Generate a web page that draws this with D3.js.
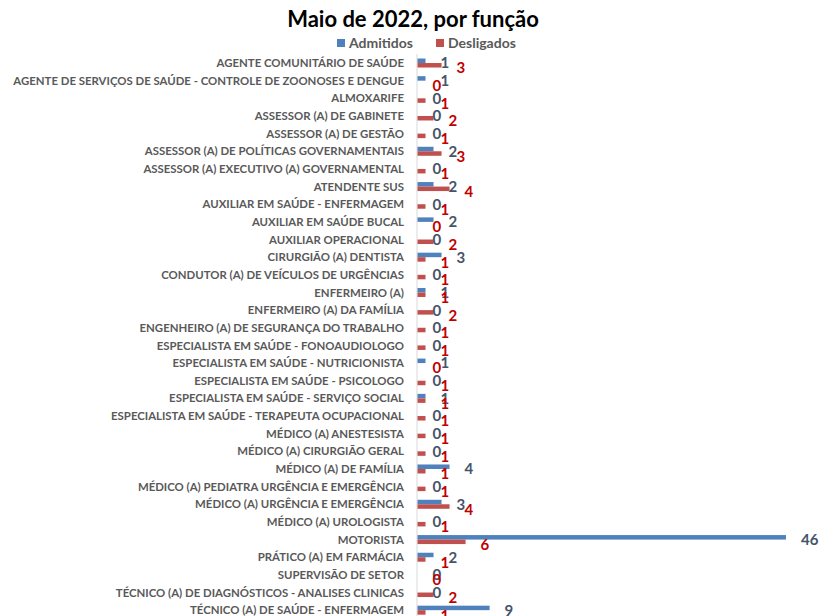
<!DOCTYPE html>
<html>
<head>
<meta charset="utf-8">
<script src="https://cdn.jsdelivr.net/npm/d3@7"></script>
<style>
    body { margin: 0; background: #fff; }
    text { font-family: Lato, "Liberation Sans", sans-serif; font-weight: bold; }
</style>
</head>
<body>
<div id="chart-area"></div>
<script>

// categories (funções)
let funcoes = [
    "AGENTE COMUNITÁRIO DE SAÚDE",
    "AGENTE DE SERVIÇOS DE SAÚDE - CONTROLE DE ZOONOSES E DENGUE",
    "ALMOXARIFE",
    "ASSESSOR (A) DE GABINETE",
    "ASSESSOR (A) DE GESTÃO",
    "ASSESSOR (A) DE POLÍTICAS GOVERNAMENTAIS",
    "ASSESSOR (A) EXECUTIVO (A) GOVERNAMENTAL",
    "ATENDENTE SUS",
    "AUXILIAR EM SAÚDE - ENFERMAGEM",
    "AUXILIAR EM SAÚDE BUCAL",
    "AUXILIAR OPERACIONAL",
    "CIRURGIÃO (A) DENTISTA",
    "CONDUTOR (A) DE VEÍCULOS DE URGÊNCIAS",
    "ENFERMEIRO (A)",
    "ENFERMEIRO (A) DA FAMÍLIA",
    "ENGENHEIRO (A) DE SEGURANÇA DO TRABALHO",
    "ESPECIALISTA EM SAÚDE - FONOAUDIOLOGO",
    "ESPECIALISTA EM SAÚDE - NUTRICIONISTA",
    "ESPECIALISTA EM SAÚDE - PSICOLOGO",
    "ESPECIALISTA EM SAÚDE - SERVIÇO SOCIAL",
    "ESPECIALISTA EM SAÚDE - TERAPEUTA OCUPACIONAL",
    "MÉDICO (A) ANESTESISTA",
    "MÉDICO (A) CIRURGIÃO GERAL",
    "MÉDICO (A) DE FAMÍLIA",
    "MÉDICO (A) PEDIATRA URGÊNCIA E EMERGÊNCIA",
    "MÉDICO (A) URGÊNCIA E EMERGÊNCIA",
    "MÉDICO (A) UROLOGISTA",
    "MOTORISTA",
    "PRÁTICO (A) EM FARMÁCIA",
    "SUPERVISÃO DE SETOR",
    "TÉCNICO (A) DE DIAGNÓSTICOS - ANALISES CLINICAS",
    "TÉCNICO (A) DE SAÚDE - ENFERMAGEM"
];

let admitidos = [1, 1, 0, 0, 0, 2, 0, 2, 0, 2, 0, 3, 0, 1, 0, 0, 0, 1, 0, 1, 0, 0, 0, 4, 0, 3, 0, 46, 2, 0, 0, 9];
let desligados = [3, 0, 1, 2, 1, 3, 1, 4, 1, 0, 2, 1, 1, 1, 2, 1, 1, 0, 1, 1, 1, 1, 1, 1, 1, 4, 1, 6, 1, 0, 2, 1];

let series = ["Admitidos", "Desligados"];
let title = "Maio de 2022, por função";


class FuncaoBarVis {

    constructor(_parentElement) {
        this.parentElement = _parentElement;

        this.displayData = funcoes.map((f, i) => {
            return { funcao: f, values: [admitidos[i], desligados[i]] };
        });

        this.colors = ["#4F81BD", "#C0504D"];
        this.labelColors = ["#44546A", "#C00000"];

        this.initVis();
    }

    initVis() {
        let vis = this;

        vis.width = 822;
        vis.height = 616;

        vis.svg = d3.select("#" + vis.parentElement).append("svg")
            .attr("width", vis.width)
            .attr("height", vis.height);

        // title
        vis.svg.append("text")
            .attr("x", 413)
            .attr("y", 27)
            .attr("text-anchor", "middle")
            .attr("font-size", 22)
            .attr("fill", "#000")
            .text(title);

        // legend
        let legendX = [337, 436];
        let legend = vis.svg.selectAll(".legend")
            .data(series)
            .enter().append("g")
            .attr("class", "legend")
            .attr("transform", (d, i) => "translate(" + legendX[i] + ",39)");
        legend.append("rect")
            .attr("width", 8)
            .attr("height", 8)
            .attr("fill", (d, i) => vis.colors[i]);
        legend.append("text")
            .attr("x", 12)
            .attr("y", 9)
            .attr("font-size", 14)
            .attr("fill", "#595959")
            .text(d => d);

        // scales
        vis.y = d3.scaleBand()
            .domain(funcoes)
            .range([54.2, 54.2 + 17.65 * funcoes.length])
            .paddingInner(0.49)
            .paddingOuter(0.245);

        vis.ySeries = d3.scaleBand()
            .domain([0, 1])
            .range([0, vis.y.bandwidth()]);

        vis.x = d3.scaleLinear()
            .domain([0, 50])
            .range([417.5, 818]);

        vis.updateVis();
    }

    updateVis() {
        let vis = this;

        // category axis
        let yAxis = d3.axisLeft(vis.y).tickSize(0).tickPadding(13);
        let axisG = vis.svg.append("g")
            .attr("class", "axis y-axis")
            .attr("transform", "translate(417,0)")
            .call(yAxis);
        axisG.select(".domain").remove();
        axisG.selectAll("text")
            .attr("font-family", "Lato, 'Liberation Sans', sans-serif")
            .attr("font-weight", "bold")
            .attr("font-size", 11.4)
            .attr("fill", "#595959")
            .attr("dy", "0.36em");

        vis.svg.append("line")
            .attr("x1", 417).attr("x2", 417)
            .attr("y1", 54).attr("y2", 620)
            .attr("stroke", "#d9d9d9")
            .attr("stroke-width", 1);

        let rows = vis.svg.selectAll(".row")
            .data(vis.displayData)
            .enter().append("g")
            .attr("class", "row")
            .attr("transform", d => "translate(0," + vis.y(d.funcao) + ")");

        rows.selectAll("rect")
            .data(d => d.values)
            .enter().append("rect")
            .attr("x", vis.x(0))
            .attr("y", (d, i) => vis.ySeries(i))
            .attr("width", d => vis.x(d) - vis.x(0))
            .attr("height", vis.ySeries.bandwidth())
            .attr("fill", (d, i) => vis.colors[i]);

        // data labels
        let mid = vis.y.bandwidth() / 2;
        rows.selectAll(".value")
            .data(d => d.values)
            .enter().append("text")
            .attr("class", "value")
            .attr("x", d => vis.x(d) + 15)
            .attr("y", (d, i) => mid + (i === 0 ? 0 : 5))
            .attr("dy", "0.36em")
            .attr("font-size", 15)
            .attr("fill", (d, i) => vis.labelColors[i])
            .text(d => d);
    }
}

new FuncaoBarVis("chart-area");

</script>
</body>
</html>
